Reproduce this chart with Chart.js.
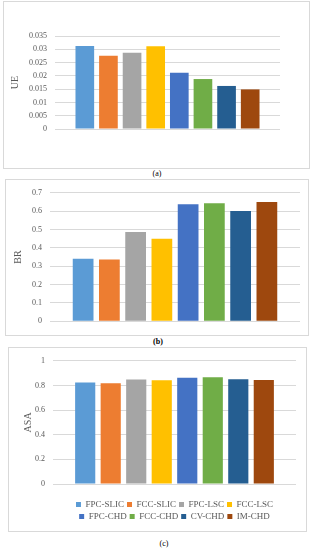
<!DOCTYPE html>
<html>
<head>
<meta charset="utf-8">
<script src="https://cdn.jsdelivr.net/npm/chart.js@4.4.0/dist/chart.umd.min.js"></script>
<style>
  body { margin: 0; background: #fff; width: 313px; height: 550px; position: relative; overflow: hidden; }
  .box { position: absolute; border: 1px solid #d9d9d9; box-sizing: border-box; }
  canvas { position: absolute; }
  .cap { position: absolute; font: 8px "Liberation Serif", serif; color: #000; transform: translateX(-50%); white-space: nowrap; }
</style>
</head>
<body>
<div class="box" style="left:3px;top:1px;width:307px;height:168px"></div>
<div class="box" style="left:5px;top:179px;width:304px;height:157px"></div>
<div class="box" style="left:8px;top:347px;width:299px;height:185px"></div>
<canvas id="chartA" width="304" height="165" style="left:4px;top:2px"></canvas>
<canvas id="chartB" width="301" height="154" style="left:6px;top:180px"></canvas>
<canvas id="chartC" width="296" height="183" style="left:9px;top:348px"></canvas>
<div class="cap" style="left:157px;top:169px">(a)</div>
<div class="cap" style="left:158px;top:337px;font-weight:bold">(b)</div>
<div class="cap" style="left:164px;top:539px">(c)</div>
<script>
// methods (one bar each, all in one cluster)
const methods = ["FPC-SLIC", "FCC-SLIC", "FPC-LSC", "FCC-LSC", "FPC-CHD", "FCC-CHD", "CV-CHD", "IM-CHD"];
const colors = ["#5b9bd5", "#ed7d31", "#a5a5a5", "#ffc000", "#4472c4", "#70ad47", "#255e91", "#9e480e"];

// values
const ueValues = [0.0312, 0.0276, 0.0287, 0.0311, 0.0212, 0.0188, 0.0162, 0.0149];
const brValues = [0.341, 0.337, 0.486, 0.449, 0.638, 0.643, 0.601, 0.650];
const asaValues = [0.823, 0.818, 0.848, 0.842, 0.862, 0.867, 0.850, 0.845];

const gray = "#595959";
const serif = "'Liberation Serif', 'Times New Roman', serif";

function makeChart(id, title, values, yMax, yStep, pad, axisWidth, showLegend) {
  return new Chart(document.getElementById(id), {
    type: "bar",
    data: {
      labels: [""],
      datasets: methods.map((m, i) => ({
        label: m,
        data: [values[i]],
        backgroundColor: colors[i],
        borderWidth: 0,
        categoryPercentage: 0.84,
        barPercentage: 0.79,
      })),
    },
    options: {
      responsive: false,
      animation: false,
      devicePixelRatio: 1,
      layout: { padding: pad },
      plugins: {
        tooltip: { enabled: false },
        legend: {
          display: showLegend,
          position: "bottom",
          fullSize: false,
          labels: {
            boxWidth: 5,
            boxHeight: 5,
            padding: 3,
            color: gray,
            font: { family: serif, size: 9 },
          },
        },
      },
      scales: {
        x: {
          display: showLegend,
          grid: { display: true, drawOnChartArea: false, drawTicks: true, tickLength: 13, color: "rgba(0,0,0,0)" },
          border: { display: false },
          ticks: { display: false },
        },
        y: {
          min: 0,
          max: yMax,
          afterFit: (s) => { s.width = axisWidth; },
          grid: { color: "#d9d9d9", drawTicks: false },
          border: { display: false },
          ticks: {
            stepSize: yStep,
            padding: 8,
            color: gray,
            font: { family: serif, size: 8 },
            callback: (v) => String(Number(v.toFixed(4))),
          },
          title: {
            display: true,
            text: title,
            color: gray,
            padding: 0,
            font: { family: serif, size: 10 },
          },
        },
      },
    },
  });
}

makeChart("chartA", "UE", ueValues, 0.035, 0.005, { top: 34, right: 28, bottom: 38, left: 5 }, 46, false);
makeChart("chartB", "BR", brValues, 0.7, 0.1, { top: 9, right: 7, bottom: 10, left: 6 }, 38, false);
makeChart("chartC", "ASA", asaValues, 1, 0.2, { top: 12, right: 9, bottom: 0, left: 13 }, 31, true);
</script>
</body>
</html>
